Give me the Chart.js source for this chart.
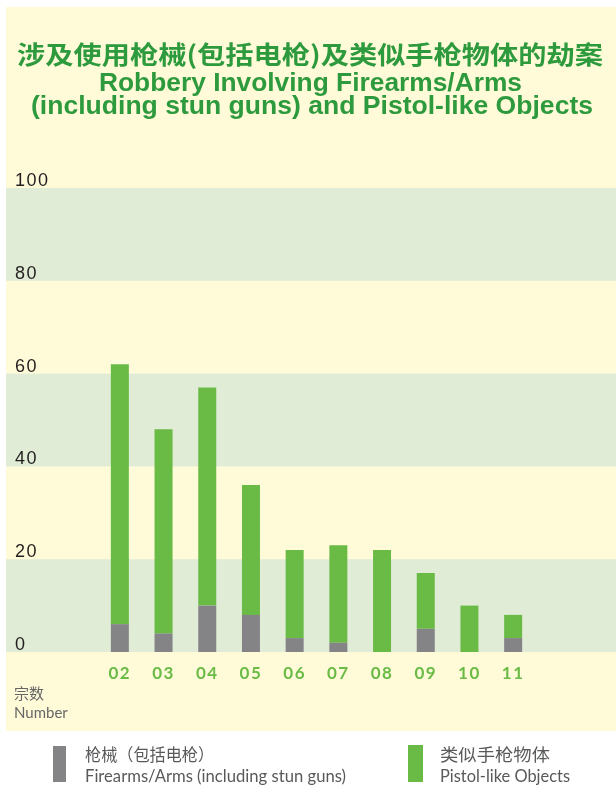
<!DOCTYPE html>
<html><head><meta charset="utf-8">
<script src="https://cdn.jsdelivr.net/npm/chart.js@4"></script>
<style>html,body{margin:0;padding:0;background:#fff}canvas{display:block}</style>
</head><body>
<canvas id="c" width="616" height="787"></canvas>
<script>
const categories = ['02','03','04','05','06','07','08','09','10','11'];
const firearmsValues = [6,4,10,8,3,2,0,5,0,3];
const pistolLikeValues = [56,44,47,28,19,21,22,12,10,5];
const yTicks = [0,20,40,60,80,100];
const bandRanges = [[0,20],[40,60],[80,100]];
const titleZh = '涉及使用枪械(包括电枪)及类似手枪物体的劫案';
const titleEn1 = 'Robbery Involving Firearms/Arms';
const titleEn2 = '(including stun guns) and Pistol-like Objects';
const seriesZh = ['枪械（包括电枪）','类似手枪物体'];
const seriesEn = ['Firearms/Arms (including stun guns)','Pistol-like Objects'];
const axisZh = '宗数';
const axisEn = 'Number';

const GREY='#848487', GREEN='#6ABB45', TITLE='#2E9A3E', YELLOW='#FFFBD9', BAND='#E0ECD6', TEXTGREY='#58595B';

function drawText(ctx, text, x, y, font, color, baseline, width) {
  ctx.save();
  ctx.letterSpacing = '0px';
  ctx.font = font; ctx.fillStyle = color; ctx.textBaseline = baseline || 'alphabetic'; ctx.textAlign = 'left';
  ctx.translate(x, y);
  if (width) { const m = ctx.measureText(text).width; ctx.scale(width / m, 1); }
  ctx.fillText(text, 0, 0);
  ctx.restore();
}

const bgPlugin = {
  id: 'bg',
  beforeDraw(chart) {
    const ctx = chart.ctx, ys = chart.scales.y;
    ctx.save();
    ctx.fillStyle = '#fff'; ctx.fillRect(0, 0, chart.width, chart.height);
    ctx.fillStyle = YELLOW; ctx.fillRect(6, 7, chart.width - 6, 724);
    ctx.fillStyle = BAND;
    bandRanges.forEach(([lo, hi]) => {
      const y1 = ys.getPixelForValue(hi), y2 = ys.getPixelForValue(lo);
      ctx.fillRect(6, y1, chart.width - 6, y2 - y1);
    });
    ctx.restore();
    ctx.letterSpacing = '1.5px';
  },
  afterDraw(chart) {
    const ctx = chart.ctx;
    ctx.letterSpacing = '0px';
    drawText(ctx, titleZh, 17, 54, 'bold 25px "Noto Sans CJK SC"', TITLE, 'middle', 586);
    drawText(ctx, titleEn1, 99, 91, 'bold 25px "Liberation Sans"', TITLE, 'alphabetic', 423);
    drawText(ctx, titleEn2, 31, 114, 'bold 25px "Liberation Sans"', TITLE, 'alphabetic', 562);
    drawText(ctx, axisZh, 14, 693, '15px "Noto Sans CJK SC"', '#666', 'middle');
    drawText(ctx, axisEn, 14, 713, '15px Lato', '#666', 'middle');
    const colors = [GREY, GREEN];
    const rects = [[53, 746, 13, 36], [408, 745, 15, 37]];
    const tx = [85, 440];
    const wZh = [129, 110], wEn = [261, 130];
    for (let i = 0; i < 2; i++) {
      ctx.fillStyle = colors[i];
      ctx.fillRect(...rects[i]);
      drawText(ctx, seriesZh[i], tx[i], 755, '17px "Noto Sans CJK SC"', TEXTGREY, 'middle', wZh[i]);
      drawText(ctx, seriesEn[i], tx[i], 777, '17px Lato', TEXTGREY, 'middle', wEn[i]);
    }
  }
};

new Chart(document.getElementById('c').getContext('2d'), {
  type: 'bar',
  data: {
    labels: categories,
    datasets: [
      { label: seriesEn[0], data: firearmsValues, backgroundColor: GREY, barPercentage: 0.412, categoryPercentage: 1 },
      { label: seriesEn[1], data: pistolLikeValues, backgroundColor: GREEN, barPercentage: 0.412, categoryPercentage: 1 }
    ]
  },
  options: {
    responsive: false, animation: false,
    layout: { padding: { left: 15, right: 81, top: 188, bottom: 95 } },
    plugins: { legend: { display: false }, title: { display: false }, tooltip: { enabled: false } },
    scales: {
      x: {
        stacked: true,
        grid: { display: false, drawTicks: false }, border: { display: false },
        ticks: { color: GREEN, font: { family: 'Lato', size: 17, weight: 'bold' }, padding: 11, maxRotation: 0 },
        afterFit: s => { s.height = 40; }
      },
      y: {
        stacked: true, min: 0, max: 100,
        grid: { display: false, drawTicks: false }, border: { display: false },
        ticks: { color: '#231F20', font: { family: 'Liberation Sans', size: 18 }, crossAlign: 'far', labelOffset: -7, padding: 0 },
        afterBuildTicks: s => { s.ticks = yTicks.map(v => ({ value: v })); },
        afterFit: s => { s.width = 83; }
      }
    }
  },
  plugins: [bgPlugin]
});
</script>
</body></html>
